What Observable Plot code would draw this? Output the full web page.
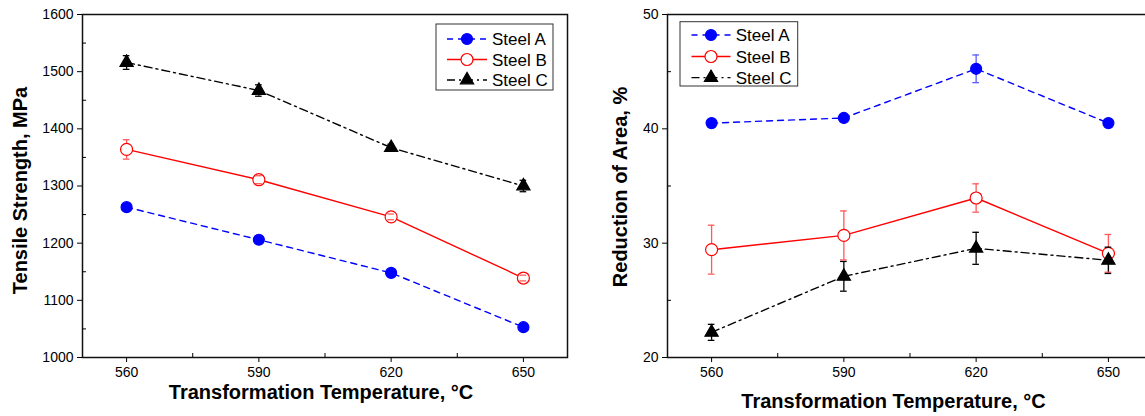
<!DOCTYPE html>
<html><head><meta charset="utf-8">
<script src="https://cdn.jsdelivr.net/npm/d3@7"></script>
<script src="https://cdn.jsdelivr.net/npm/@observablehq/plot@0.6"></script>
<style>
body{margin:0;background:#fff;}
#wrap{position:relative;width:1145px;height:416px;overflow:hidden;background:#fff;}
#wrap svg{position:absolute;top:0;}
</style></head><body><div id="wrap"></div>
<script>
// ---- data ----
const temps = [560, 590, 620, 650];
const minorTemps = [575, 605, 635];
const seriesNames = ["Steel A", "Steel B", "Steel C"];

const tensileA = [1263, 1206, 1148, 1053];
const tensileB = [1364, 1311, 1246, 1139];
const tensileC = [1516, 1467, 1367, 1300];
const tensileErrA = [0, 0, 0, 0];
const tensileErrB = [17, 7, 5, 5];
const tensileErrC = [12, 10, 6, 10];
const tensileTicks = [1000, 1100, 1200, 1300, 1400, 1500, 1600];
const tensileMinor = [1050, 1150, 1250, 1350, 1450, 1550];

const reductionA = [40.5, 40.95, 45.25, 40.5];
const reductionB = [29.43, 30.68, 33.95, 29.11];
const reductionC = [22.2, 27.1, 29.55, 28.5];
const reductionErrA = [0, 0, 1.21, 0];
const reductionErrB = [2.14, 2.14, 1.24, 1.65];
const reductionErrC = [0.7, 1.3, 1.4, 1.15];
const reductionTicks = [20, 30, 40, 50];
const reductionMinor = [25, 35, 45];

// ---- styles ----
const seriesColors = ["#0000ff", "#ff0000", "#000000"];
const errorColors = ["#5a5aff", "#ff5a5a", "#000000"];
const seriesDash = ["6,5", null, "8,4,2,4"];
const seriesSymbols = ["circle", "circle", "triangle"];
const seriesFill = ["#0000ff", "#ffffff", "#000000"];
const seriesR = [5.5, 6, 4.9];
const FONT = "'Liberation Sans', Arial, sans-serif";

function makeChart(cfg) {
  const rows = [];
  cfg.values.forEach((vals, s) => temps.forEach((t, i) => rows.push({s, x: t, y: vals[i], e: cfg.errs[s][i]})));
  const marks = [
    Plot.frame({stroke: "#111", strokeWidth: 1.5}),
    Plot.axisY(cfg.ticks, {tickSize: 5, tickPadding: 4, fontSize: 14, label: null, tickFormat: d => String(d)}),
    Plot.axisY(cfg.minor, {tickSize: 4, dx: 4, tickFormat: () => "", label: null}),
    Plot.axisX(temps, {tickSize: 5, tickPadding: 5, fontSize: 14, label: null, tickFormat: d => String(d)}),
    Plot.axisX(minorTemps, {tickSize: 4, dy: -4, tickFormat: () => "", label: null}),
    Plot.text([cfg.xLabel], {text: d => d, frameAnchor: "bottom", textAnchor: "middle", lineAnchor: "middle", dx: cfg.xLabelDx, dy: cfg.xLabelDy, fontSize: 20, fontWeight: "bold"}),
    Plot.text([cfg.yLabel], {text: d => d, frameAnchor: "left", textAnchor: "middle", lineAnchor: "middle", rotate: -90, dx: cfg.yLabelDx, dy: cfg.yLabelDy, fontSize: 20, fontWeight: "bold"})
  ];
  seriesNames.forEach((n, s) => {
    const d = rows.filter(r => r.s === s);
    marks.push(Plot.line(d, {x: "x", y: "y", stroke: seriesColors[s], strokeWidth: 1.4, strokeDasharray: seriesDash[s]}));
  });
  seriesNames.forEach((n, s) => {
    const d = rows.filter(r => r.s === s && r.e > 0);
    marks.push(Plot.ruleX(d, {x: "x", y1: r => r.y - r.e, y2: r => r.y + r.e, stroke: errorColors[s], strokeWidth: 1.3}));
  });
  seriesNames.forEach((n, s) => {
    const d = rows.filter(r => r.s === s);
    marks.push(Plot.dot(d, {x: "x", y: "y", symbol: seriesSymbols[s], r: seriesR[s], fill: seriesFill[s], stroke: seriesColors[s], strokeWidth: 1.2}));
  });
  seriesNames.forEach((n, s) => {
    const caps = rows.filter(r => r.s === s && r.e > 0).flatMap(r => [{x: r.x, y: r.y - r.e}, {x: r.x, y: r.y + r.e}]);
    marks.push(Plot.ruleY(caps, {y: "y", x1: r => r.x - 0.75, x2: r => r.x + 0.75, stroke: errorColors[s], strokeWidth: 1.3}));
  });

  const svg = Plot.plot({
    width: 580, height: 416,
    marginTop: 14, marginBottom: 59, marginLeft: cfg.marginLeft, marginRight: cfg.marginRight,
    x: {domain: [550, 660]},
    y: {domain: cfg.yDomain},
    style: {fontFamily: FONT, fontSize: "14px", color: "#000", background: "transparent", overflow: "visible"},
    marks
  });

  // legend
  const L = cfg.legend;
  const g = d3.select(svg).append("g").attr("font-family", FONT).attr("font-size", 17).attr("text-anchor", "start");
  g.append("rect").attr("x", L.x).attr("y", L.y).attr("width", L.w).attr("height", L.h)
    .attr("fill", "#fff").attr("stroke", "#333").attr("stroke-width", 1);
  seriesNames.forEach((n, s) => {
    const yy = L.rowY[s];
    g.append("line").attr("x1", L.lineX0).attr("x2", L.lineX1).attr("y1", yy).attr("y2", yy)
      .attr("stroke", seriesColors[s]).attr("stroke-width", 1.3)
      .attr("stroke-dasharray", seriesDash[s]);
    const type = seriesSymbols[s] === "triangle" ? d3.symbolTriangle : d3.symbolCircle;
    g.append("path").attr("transform", `translate(${(L.lineX0 + L.lineX1) / 2},${yy})`)
      .attr("d", d3.symbol(type, Math.PI * seriesR[s] * seriesR[s])())
      .attr("fill", seriesFill[s]).attr("stroke", seriesColors[s]).attr("stroke-width", 1.2);
    g.append("text").attr("x", L.textX).attr("y", yy).attr("dy", "0.36em").attr("fill", "#000")
      .attr("text-anchor", "start").text(n);
  });
  return svg;
}

const wrap = document.getElementById("wrap");

const left = makeChart({
  values: [tensileA, tensileB, tensileC],
  errs: [tensileErrA, tensileErrB, tensileErrC],
  ticks: tensileTicks, minor: tensileMinor, yDomain: [1000, 1600],
  marginLeft: 82, marginRight: 13,
  xLabel: "Transformation Temperature, °C", xLabelDx: -4, xLabelDy: 35.5,
  yLabel: "Tensile Strength, MPa", yLabelDx: -62, yLabelDy: 4.5,
  legend: {x: 436, y: 24, w: 117, h: 66, rowY: [39, 59.5, 80], lineX0: 447, lineX1: 487, textX: 492}
});
left.style.left = "0px";
wrap.appendChild(left);

const right = makeChart({
  values: [reductionA, reductionB, reductionC],
  errs: [reductionErrA, reductionErrB, reductionErrC],
  ticks: reductionTicks, minor: reductionMinor, yDomain: [20, 50],
  marginLeft: 87, marginRight: 8,
  xLabel: "Transformation Temperature, °C", xLabelDx: -16.5, xLabelDy: 44.5,
  yLabel: "Reduction of Area, %", yLabelDx: -46.5, yLabelDy: 1,
  legend: {x: 100, y: 21.7, w: 117.7, h: 64.3, rowY: [35, 56.5, 77.7], lineX0: 111.5, lineX1: 150.5, textX: 155.7}
});
right.style.left = "580px";
wrap.appendChild(right);
</script>
</body></html>
